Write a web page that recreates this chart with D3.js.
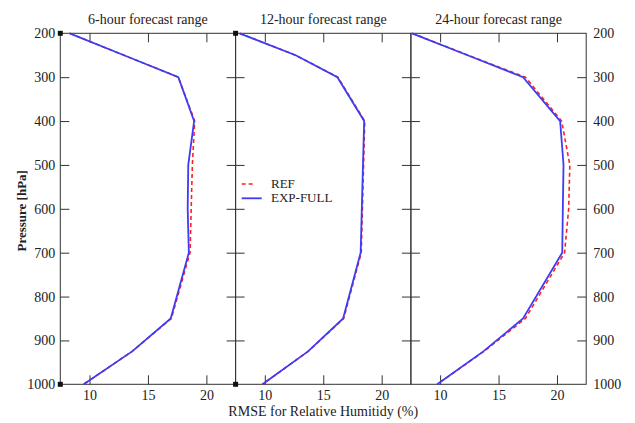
<!DOCTYPE html>
<html>
<head>
<meta charset="utf-8">
<script src="https://cdn.jsdelivr.net/npm/d3@7"></script>
<style>
  html, body { margin: 0; padding: 0; background: #fff; }
  svg { display: block; }
  text { font-family: "Liberation Serif", "DejaVu Serif", serif; fill: #222; }
</style>
</head>
<body>
<svg id="chart" width="635" height="423"></svg>
<script>
// ---- data ----
const pressureLevels = [200, 250, 300, 400, 500, 600, 700, 850, 925, 1000];
const panelTitles = ["6-hour forecast range", "12-hour forecast range", "24-hour forecast range"];
const seriesNames = ["REF", "EXP-FULL"];

const ref6  = [8.3, 12.95, 17.6, 19.0, 18.8, 18.7, 18.6, 17.0, 13.65, 9.5];
const exp6  = [8.3, 12.95, 17.6, 18.95, 18.45, 18.4, 18.5, 16.95, 13.65, 9.5];
const ref12 = [7.84, 12.64, 16.25, 18.55, 18.45, 18.35, 18.25, 16.75, 13.7, 9.8];
const exp12 = [7.84, 12.64, 16.21, 18.5, 18.4, 18.3, 18.2, 16.7, 13.7, 9.8];
const ref24 = [7.6, 12.4, 17.3, 20.4, 21.1, 21.0, 20.65, 17.3, 13.75, 9.75];
const exp24 = [7.6, 12.35, 17.1, 20.27, 20.56, 20.5, 20.45, 17.1, 13.7, 9.75];

const xTicks = [10, 15, 20];
const yTicks = [200, 300, 400, 500, 600, 700, 800, 900, 1000];
const xDomain = [7.5, 22.5];
const yDomain = [200, 1000];
const xLabel = "RMSE for Relative Humitidy (%)";
const yLabel = "Pressure [hPa]";

const panels = [
  { title: panelTitles[0], ref: ref6,  exp: exp6  },
  { title: panelTitles[1], ref: ref12, exp: exp12 },
  { title: panelTitles[2], ref: ref24, exp: exp24 }
];

// ---- layout ----
const svg = d3.select("#chart");
const plotLeft = 60.3, plotTop = 33.3, plotBottom = 384.3, panelW = 175.3;
const refColor = "#ff2020", expColor = "#3c3cf5", axisColor = "#333";
const fmt = d3.format("d");

const y = d3.scaleLinear().domain(yDomain).range([plotTop, plotBottom]);

panels.forEach((p, i) => {
  const x0 = plotLeft + i * panelW;
  const x = d3.scaleLinear().domain(xDomain).range([x0, x0 + panelW]);
  const g = svg.append("g");

  g.append("rect").attr("x", x0).attr("y", plotTop).attr("width", panelW).attr("height", plotBottom - plotTop)
    .attr("fill", "none").attr("stroke", axisColor).attr("stroke-width", 1);

  const bx = g.append("g").attr("transform", `translate(0,${plotBottom})`)
    .call(d3.axisBottom(x).tickValues(xTicks).tickFormat(fmt).tickSizeInner(-9).tickSizeOuter(0).tickPadding(6));
  const tx = g.append("g").attr("transform", `translate(0,${plotTop})`)
    .call(d3.axisTop(x).tickValues(xTicks).tickSizeInner(-9).tickSizeOuter(0).tickFormat(""));
  const ly = g.append("g").attr("transform", `translate(${x0},0)`)
    .call(d3.axisLeft(y).tickValues(yTicks.slice(1, -1)).tickSizeInner(-9).tickSizeOuter(0).tickFormat(""));
  const ry = g.append("g").attr("transform", `translate(${x0 + panelW},0)`)
    .call(d3.axisRight(y).tickValues(yTicks.slice(1, -1)).tickSizeInner(-9).tickSizeOuter(0).tickFormat(""));
  [bx, tx, ly, ry].forEach(a => {
    a.attr("font-family", null);
    a.select(".domain").remove();
    a.selectAll("line").attr("stroke", axisColor);
    a.selectAll("text").attr("font-size", 14).attr("fill", "#222");
  });

  g.append("text").attr("x", x0 + panelW / 2).attr("y", 23.5).attr("text-anchor", "middle")
    .attr("font-size", 14).text(p.title);

  const line = vals => d3.line().x((d, k) => x(vals[k])).y(d => y(d))(pressureLevels);
  g.append("path").attr("d", line(p.ref)).attr("fill", "none").attr("stroke", refColor)
    .attr("stroke-width", 1.6).attr("stroke-dasharray", "4,3");
  g.append("path").attr("d", line(p.exp)).attr("fill", "none").attr("stroke", expColor)
    .attr("stroke-width", 1.8);

  if (i < 2) {
    [yDomain[0], yDomain[1]].forEach(v => {
      g.append("rect").attr("x", x0 - 2.5).attr("y", y(v) - 2.5).attr("width", 5).attr("height", 5)
        .attr("fill", "#111");
    });
  }
});

const leftAx = svg.append("g").attr("transform", `translate(${plotLeft},0)`)
  .call(d3.axisLeft(y).tickValues(yTicks).tickFormat(fmt).tickSize(0).tickPadding(5));
const rightAx = svg.append("g").attr("transform", `translate(${plotLeft + 3 * panelW},0)`)
  .call(d3.axisRight(y).tickValues(yTicks).tickFormat(fmt).tickSize(0).tickPadding(7));
[leftAx, rightAx].forEach(a => {
  a.attr("font-family", null);
  a.select(".domain").remove();
  a.selectAll("text").attr("font-size", 14).attr("fill", "#222");
});

svg.append("text").attr("x", plotLeft + 1.5 * panelW).attr("y", 415.5).attr("text-anchor", "middle")
  .attr("font-size", 14).text(xLabel);
svg.append("text").attr("transform", `translate(26,${(plotTop + plotBottom) / 2 + 2}) rotate(-90)`)
  .attr("text-anchor", "middle").attr("font-size", 13).attr("font-weight", "bold").text(yLabel);

const lg = svg.append("g");
const lx = 241.7;
lg.append("line").attr("x1", lx).attr("x2", lx + 14).attr("y1", 184).attr("y2", 184)
  .attr("stroke", refColor).attr("stroke-width", 1.4).attr("stroke-dasharray", "4,3");
lg.append("line").attr("x1", lx).attr("x2", lx + 20).attr("y1", 198.3).attr("y2", 198.3)
  .attr("stroke", expColor).attr("stroke-width", 1.8);
lg.append("text").attr("x", 271).attr("y", 188.3).attr("font-size", 13).text(seriesNames[0]);
lg.append("text").attr("x", 271).attr("y", 202).attr("font-size", 13).text(seriesNames[1]);
</script>
</body>
</html>
